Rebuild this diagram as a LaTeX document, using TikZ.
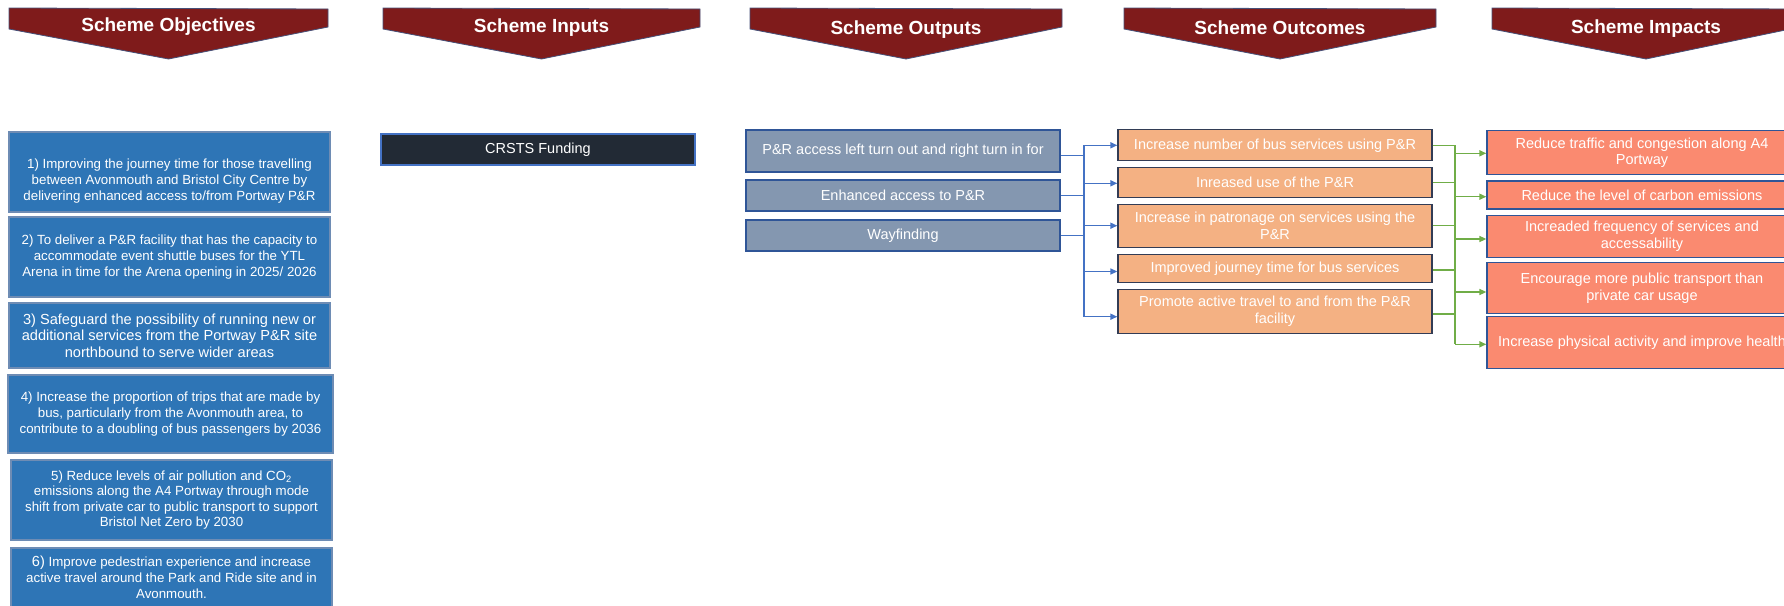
\documentclass[tikz,border=0pt]{standalone}
\usepackage{fontspec}
\setmainfont{Liberation Sans}
\usetikzlibrary{arrows.meta}
\definecolor{bannerred}{RGB}{127,27,27}
\definecolor{bannerline}{RGB}{70,80,120}
\definecolor{objfill}{RGB}{46,117,182}
\definecolor{objdraw}{RGB}{110,140,180}
\definecolor{inpfill}{RGB}{34,42,53}
\definecolor{inpdraw}{RGB}{68,114,196}
\definecolor{outfill}{RGB}{132,151,176}
\definecolor{outdraw}{RGB}{47,85,151}
\definecolor{ocfill}{RGB}{244,177,131}
\definecolor{ocdraw}{RGB}{50,60,85}
\definecolor{imfill}{RGB}{250,138,112}
\definecolor{imdraw}{RGB}{47,85,151}
\definecolor{bluecon}{RGB}{68,114,196}
\definecolor{greencon}{RGB}{112,173,71}
\begin{document}
\begin{tikzpicture}[x=1pt,y=-1pt,
  box/.style={rectangle, inner sep=1pt, align=center, text=white, line width=1.3pt},
  objbox/.style={box, fill=objfill, draw=objdraw, line width=1.1pt, font=\fontsize{13.3pt}{16pt}\selectfont},
  inbox/.style={box, fill=inpfill, draw=inpdraw, font=\fontsize{14.5pt}{17pt}\selectfont},
  outbox/.style={box, fill=outfill, draw=outdraw, font=\fontsize{14.5pt}{17pt}\selectfont},
  ocbox/.style={box, fill=ocfill, draw=ocdraw, font=\fontsize{14.5pt}{17.3pt}\selectfont},
  imbox/.style={box, fill=imfill, draw=imdraw, font=\fontsize{14.5pt}{16.7pt}\selectfont},
  bannertext/.style={text=white, anchor=base, font=\bfseries\fontsize{19pt}{22pt}\selectfont},
  bl/.style={draw=bluecon, line width=1.5pt},
  gl/.style={draw=greencon, line width=1.5pt},
  arr/.style={-{Triangle[length=7pt,width=6pt]}}
]
\useasboundingbox (0,0) rectangle (1784,605);

% banners
\foreach \l/\r/\b/\lab/\nm in {9/328/31/Scheme Objectives/bObj, 383/700/32/Scheme Inputs/bInp, 750/1062/34/Scheme Outputs/bOut, 1124/1436/34/Scheme Outcomes/bOc, 1492/1800/33/Scheme Impacts/bImp}{
  \pgfmathsetmacro\m{(\l+\r)/2}
  \filldraw[fill=bannerred, draw=bannerline, line width=0.8pt] (\l,8) -- (\r,9) -- (\r,27) -- (\m,59) -- (\l,29) -- cycle;
  \node[bannertext] (\nm) at (\m,\b) {\lab};
}

% objectives
\node[objbox, minimum width=321pt, minimum height=80pt] (o1) at (169.5,172)
  {\strut\\1) Improving the journey time for those travelling\\between Avonmouth and Bristol City Centre by\\delivering enhanced access to/from Portway P\&R};
\node[objbox, minimum width=321pt, minimum height=80pt] (o2) at (169.5,257)
  {2) To deliver a P\&R facility that has the capacity to\\accommodate event shuttle buses for the YTL\\Arena in time for the Arena opening in 2025/ 2026};
\node[objbox, minimum width=321pt, minimum height=65pt, font=\fontsize{14.6pt}{16.4pt}\selectfont] (o3) at (169.5,335.5)
  {3) Safeguard the possibility of running new or\\additional services from the Portway P\&R site\\northbound to serve wider areas};
\node[objbox, minimum width=325pt, minimum height=78pt] (o4) at (170.5,414)
  {4) Increase the proportion of trips that are made by\\bus, particularly from the Avonmouth area, to\\contribute to a doubling of bus passengers by 2036};
\node[objbox, minimum width=321pt, minimum height=80pt, font=\fontsize{13.3pt}{15.4pt}\selectfont] (o5) at (171.5,500)
  {5) Reduce levels of air pollution and CO\textsubscript{2}\\emissions along the A4 Portway through mode\\shift from private car to public transport to support\\Bristol Net Zero by 2030};
\node[objbox, minimum width=321pt, minimum height=80pt] (o6) at (171.5,588)
  {{\fontsize{14.6pt}{16pt}\selectfont 6)} Improve pedestrian experience and increase\\active travel around the Park and Ride site and in\\Avonmouth.\\\strut};

% inputs
\node[inbox, minimum width=314pt, minimum height=31pt] (in1) at (538,149.5) {CRSTS Funding};

% outputs
\node[outbox, minimum width=314pt, minimum height=42pt] (pA) at (903,151) {P\&R access left turn out and right turn in for};
\node[outbox, minimum width=314pt, minimum height=31pt] (pB) at (903,195.5) {Enhanced access to P\&R};
\node[outbox, minimum width=314pt, minimum height=31pt] (pC) at (903,235.5) {Wayfinding};

% outcomes
\node[ocbox, minimum width=314pt, minimum height=31pt] (c1) at (1275,145.3) {Increase number of bus services using P\&R};
\node[ocbox, minimum width=314pt, minimum height=30pt] (c2) at (1275,182.5) {Inreased use of the P\&R};
\node[ocbox, minimum width=314pt, minimum height=43pt] (c3) at (1275,225.7) {Increase in patronage on services using the\\P\&R};
\node[ocbox, minimum width=314pt, minimum height=28.5pt] (c4) at (1275,268.5) {Improved journey time for bus services};
\node[ocbox, minimum width=314pt, minimum height=44pt] (c5) at (1275,311.2) {Promote active travel to and from the P\&R\\facility};

% impacts
\node[imbox, minimum width=310pt, minimum height=44pt] (i1) at (1642,152.8) {Reduce traffic and congestion along A4\\Portway};
\node[imbox, minimum width=310pt, minimum height=28pt] (i2) at (1642,195) {Reduce the level of carbon emissions};
\node[imbox, minimum width=310pt, minimum height=42pt] (i3) at (1642,236.2) {Increaded frequency of services and\\accessability};
\node[imbox, minimum width=310pt, minimum height=50.6pt] (i4) at (1642,288) {Encourage more public transport than\\private car usage};
\node[imbox, minimum width=310pt, minimum height=51.6pt] (i5) at (1642,342.5) {Increase physical activity and improve health};

% bus coordinates
\coordinate (bb) at (1084,0);
\coordinate (gb) at (1455,0);

% blue connectors: outputs -> outcomes
\draw[bl] ([yshift=-4.5pt]pA.east) -- ([yshift=-4.5pt]pA.east -| bb);
\draw[bl] (pB.east) -- (pB.east -| bb);
\draw[bl] (pC.east) -- (pC.east -| bb);
\draw[bl] (bb |- c1.west) -- ([yshift=-5.5pt]bb |- c5.west);
\draw[bl,arr] (bb |- c1.west) -- (c1.west);
\draw[bl,arr] ([yshift=-0.8pt]bb |- c2.west) -- ([yshift=-0.8pt]c2.west);
\draw[bl,arr] (bb |- c3.west) -- (c3.west);
\draw[bl,arr] ([yshift=-3pt]bb |- c4.west) -- ([yshift=-3pt]c4.west);
\draw[bl,arr] ([yshift=-5.5pt]bb |- c5.west) -- ([yshift=-5.5pt]c5.west);

% green connectors: outcomes -> impacts
\draw[gl] (c1.east) -- (c1.east -| gb);
\draw[gl] (c2.east) -- (c2.east -| gb);
\draw[gl] (c3.east) -- (c3.east -| gb);
\draw[gl] ([yshift=-1.5pt]c4.east) -- ([yshift=-1.5pt]c4.east -| gb);
\draw[gl] ([yshift=-3pt]c5.east) -- ([yshift=-3pt]c5.east -| gb);
\draw[gl] (gb |- c1.east) -- ([yshift=-1.8pt]gb |- i5.west);
\draw[gl,arr] ([yshift=-0.5pt]gb |- i1.west) -- ([yshift=-0.5pt]i1.west);
\draw[gl,arr] ([yshift=-1.7pt]gb |- i2.west) -- ([yshift=-1.7pt]i2.west);
\draw[gl,arr] ([yshift=-2.8pt]gb |- i3.west) -- ([yshift=-2.8pt]i3.west);
\draw[gl,arr] ([yshift=-4pt]gb |- i4.west) -- ([yshift=-4pt]i4.west);
\draw[gl,arr] ([yshift=-1.8pt]gb |- i5.west) -- ([yshift=-1.8pt]i5.west);
\end{tikzpicture}
\end{document}
